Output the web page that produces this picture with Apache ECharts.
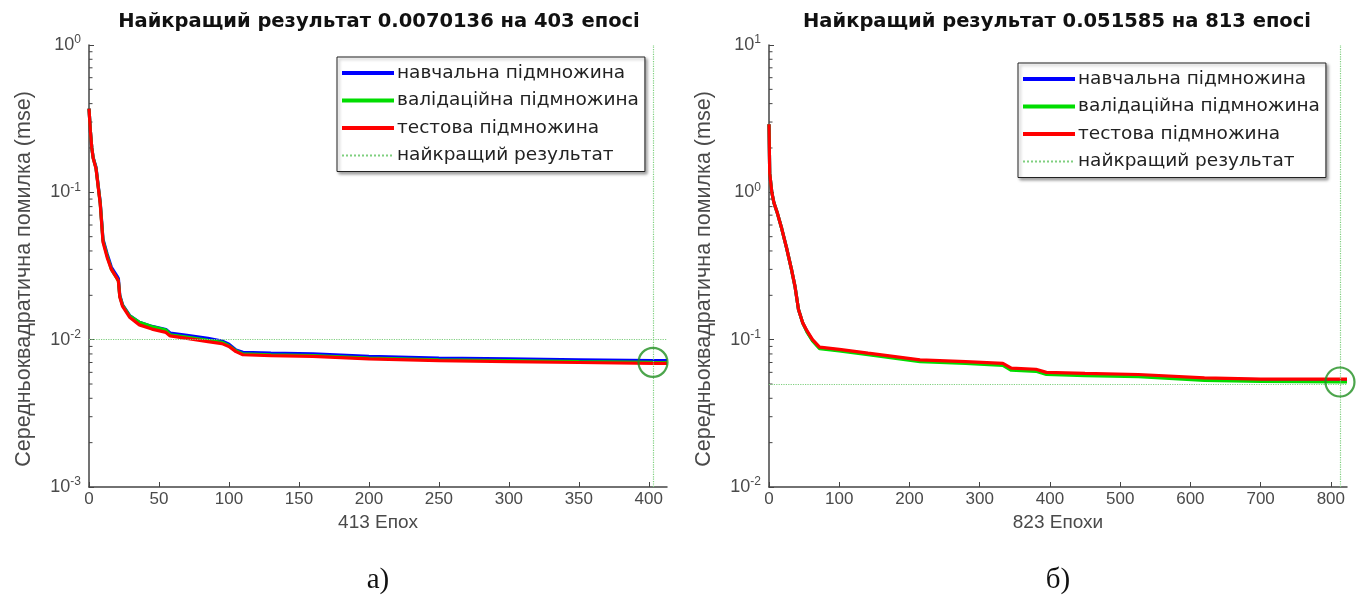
<!DOCTYPE html>
<html>
<head>
<meta charset="utf-8">
<script src="https://cdn.jsdelivr.net/npm/echarts@6/dist/echarts.min.js"></script>
<style>
  html, body { margin: 0; padding: 0; background: #ffffff; }
  #chart { width: 1357px; height: 600px; }
</style>
</head>
<body>
<div id="chart"></div>
<script>
// ---- labels ----
const seriesNames = ['навчальна підмножина', 'валідаційна підмножина', 'тестова підмножина', 'найкращий результат'];
const titleA = 'Найкращий результат 0.0070136 на 403 епосі';
const titleB = 'Найкращий результат 0.051585 на 813 епосі';
const xNameA = '413 Епох';
const xNameB = '823 Епохи';
const yName = 'Середньоквадратична помилка (mse)';
const captionA = 'а)';
const captionB = 'б)';

// ---- axis ranges and ticks ----
const xMaxA = 413;
const xMaxB = 823;
const xTicksA = [0, 50, 100, 150, 200, 250, 300, 350, 400];
const xTicksB = [0, 100, 200, 300, 400, 500, 600, 700, 800];
const yDecadesA = [0.001, 0.01, 0.1, 1];
const yDecadesB = [0.01, 0.1, 1, 10];
const minorSteps = [2, 3, 4, 5, 6, 7, 8, 9];

// ---- best result ----
const bestA = [403, 0.0070136];
const bestB = [813, 0.051585];

// ---- panel a: [epoch, mse] ----
const trainA = [[0,0.37],[1,0.26],[2,0.20],[3,0.172],[5,0.148],[8,0.086],[10,0.048],[13,0.038],[16,0.031],[20,0.027],[21,0.026],[22,0.020],[24,0.0172],[29,0.0146],[36,0.0131],[45,0.0123],[55,0.0117],[58,0.0111],[70,0.0107],[85,0.0102],[95,0.0098],[100,0.0093],[105,0.0085],[110,0.0082],[130,0.0081],[160,0.0080],[200,0.0077],[250,0.0075],[300,0.0074],[350,0.0073],[403,0.0072],[413,0.0072]];
const valA   = [[0,0.37],[1,0.26],[2,0.20],[3,0.171],[5,0.146],[8,0.085],[10,0.047],[13,0.037],[16,0.030],[20,0.026],[21,0.025],[22,0.0197],[24,0.0171],[29,0.0145],[36,0.0131],[45,0.0123],[55,0.0116],[58,0.0108],[70,0.0104],[85,0.0099],[95,0.0096],[100,0.0091],[105,0.0084],[110,0.0080],[130,0.0079],[160,0.0078],[200,0.0075],[250,0.0073],[300,0.0072],[350,0.0071],[403,0.0070136],[413,0.0070]];
const testA  = [[0,0.37],[1,0.26],[2,0.20],[3,0.17],[5,0.145],[8,0.084],[10,0.046],[13,0.036],[16,0.030],[20,0.026],[21,0.025],[22,0.0195],[24,0.0168],[29,0.0142],[36,0.0126],[45,0.0118],[55,0.0112],[58,0.0106],[70,0.0102],[85,0.0097],[95,0.0094],[100,0.0090],[105,0.0083],[110,0.0079],[130,0.0078],[160,0.0077],[200,0.0074],[250,0.0072],[300,0.0071],[350,0.0070],[403,0.0069],[413,0.0069]];

// ---- panel b: [epoch, mse] ----
const trainB = [[0,2.9],[1,1.35],[4,1.0],[7,0.85],[12,0.72],[18,0.57],[25,0.42],[32,0.30],[37,0.23],[42,0.160],[48,0.130],[54,0.114],[62,0.099],[72,0.088],[100,0.085],[141,0.080],[215,0.072],[280,0.070],[333,0.068],[345,0.063],[380,0.062],[395,0.059],[450,0.058],[526,0.057],[620,0.054],[700,0.0535],[823,0.0535]];
const valB   = [[0,2.9],[1,1.35],[4,1.0],[7,0.85],[12,0.72],[18,0.57],[25,0.42],[32,0.30],[37,0.23],[42,0.160],[48,0.130],[54,0.113],[62,0.098],[72,0.087],[100,0.084],[141,0.079],[215,0.071],[280,0.069],[333,0.067],[345,0.062],[380,0.061],[395,0.058],[450,0.057],[526,0.056],[620,0.053],[700,0.052],[813,0.051585],[823,0.0516]];
const testB  = [[0,2.9],[1,1.35],[4,1.0],[7,0.85],[12,0.72],[18,0.57],[25,0.42],[32,0.30],[37,0.23],[42,0.160],[48,0.130],[54,0.115],[62,0.100],[72,0.089],[100,0.086],[141,0.081],[215,0.073],[280,0.071],[333,0.069],[345,0.064],[380,0.063],[395,0.060],[450,0.059],[526,0.058],[620,0.055],[700,0.054],[823,0.054]];

// ---- styling ----
const colors = { train: '#0000ff', val: '#00dd00', test: '#ff0000', best: '#7fcf7f', circle: '#1f8f1f' };
const axisColor = '#444444';
const labelColor = '#4a4a4a';
const uiFont = 'DejaVu Sans';
const tickFont = 'Liberation Sans';

function minorValues(decades) {
  const out = [];
  for (let i = 0; i < decades.length - 1; i++) {
    for (const m of minorSteps) out.push([0, decades[i] * m]);
  }
  return out;
}

function powLabel(v) {
  const e = Math.round(Math.log10(v));
  return '{b|10}{s|' + e + '}';
}

function makeGrid(left) {
  return { left: left, top: 45, width: 578, height: 442, containLabel: false };
}

function makeX(idx, max, ticks, name) {
  return {
    type: 'value', gridIndex: idx, min: 0, max: max,
    name: name, nameLocation: 'middle', nameGap: 19,
    nameTextStyle: { fontFamily: tickFont, fontSize: 19, color: labelColor },
    axisLine: { lineStyle: { color: axisColor, width: 1.5 } },
    axisTick: { inside: true, length: 5, customValues: ticks, lineStyle: { color: axisColor } },
    axisLabel: { customValues: ticks, fontFamily: tickFont, fontSize: 17, color: labelColor, margin: 4 },
    splitLine: { show: false }
  };
}

function makeY(idx, decades) {
  return {
    type: 'log', logBase: 10, gridIndex: idx,
    min: decades[0], max: decades[decades.length - 1], splitNumber: decades.length - 1,
    name: yName, nameLocation: 'middle', nameRotate: 90, nameGap: 54,
    nameTextStyle: { fontFamily: tickFont, fontSize: 21.5, color: labelColor, padding: [0, 26, 0, 0] },
    axisLine: { show: true, lineStyle: { color: axisColor, width: 1.5 } },
    axisTick: { inside: true, length: 5, lineStyle: { color: axisColor } },
    axisLabel: {
      formatter: powLabel, margin: 8, color: labelColor,
      rich: {
        b: { fontFamily: tickFont, fontSize: 18, lineHeight: 22, color: labelColor },
        s: { fontFamily: tickFont, fontSize: 12, lineHeight: 12, verticalAlign: 'top', color: labelColor }
      }
    },
    splitLine: { show: false }
  };
}

function lineSeries(name, data, color, idx, width) {
  return {
    name: name, type: 'line', xAxisIndex: idx, yAxisIndex: idx,
    data: data, symbol: 'none', smooth: false, animation: false,
    lineStyle: { color: color, width: width }, itemStyle: { color: color }
  };
}

function bestSeries(best, idx) {
  return {
    name: seriesNames[3], type: 'line', xAxisIndex: idx, yAxisIndex: idx,
    data: [], symbol: 'none', animation: false,
    lineStyle: { color: colors.best, width: 1.5, type: 'dotted' },
    itemStyle: { color: colors.best },
    markLine: {
      silent: true, symbol: ['none', 'none'], animation: false,
      label: { show: false },
      lineStyle: { color: colors.best, width: 1.2, type: 'dotted' },
      data: [{ yAxis: best[1] }, { xAxis: best[0] }]
    }
  };
}

function circleSeries(best, idx) {
  return {
    type: 'scatter', xAxisIndex: idx, yAxisIndex: idx, data: [best],
    symbol: 'circle', symbolSize: 29, silent: true, animation: false, z: 5,
    itemStyle: { color: 'rgba(0,0,0,0)', borderColor: colors.circle, borderWidth: 2.2 }
  };
}

function minorTickSeries(decades, idx) {
  return {
    type: 'custom', xAxisIndex: idx, yAxisIndex: idx, silent: true, animation: false,
    data: minorValues(decades),
    renderItem: function (params, api) {
      const p = api.coord([api.value(0), api.value(1)]);
      return {
        type: 'line',
        shape: { x1: p[0], y1: p[1], x2: p[0] + 3.5, y2: p[1] },
        style: { stroke: axisColor, lineWidth: 1 }
      };
    }
  };
}

function makeLegend(left, top) {
  return {
    data: [
      { name: seriesNames[0], lineStyle: { width: 4 } },
      { name: seriesNames[1], lineStyle: { width: 4 } },
      { name: seriesNames[2], lineStyle: { width: 4 } },
      { name: seriesNames[3], lineStyle: { width: 2 } }
    ],
    orient: 'vertical', left: left, top: top,
    itemWidth: 52, itemHeight: 14, itemGap: 7.5, padding: [6, 6, 6, 3],
    backgroundColor: '#ffffff', borderColor: '#222222', borderWidth: 1,
    shadowColor: 'rgba(0,0,0,0.35)', shadowBlur: 3, shadowOffsetX: 2, shadowOffsetY: 2,
    selectedMode: false,
    itemStyle: { opacity: 0 },
    textStyle: { fontFamily: uiFont, fontSize: 18.5, color: '#222222', lineHeight: 20, padding: [0, 0, 0, -2] }
  };
}

const chart = echarts.init(document.getElementById('chart'), null, { renderer: 'canvas' });

chart.setOption({
  backgroundColor: '#ffffff',
  animation: false,
  grid: [makeGrid(89), makeGrid(769)],
  xAxis: [makeX(0, xMaxA, xTicksA, xNameA), makeX(1, xMaxB, xTicksB, xNameB)],
  yAxis: [makeY(0, yDecadesA), makeY(1, yDecadesB)],
  legend: [makeLegend(337, 57), makeLegend(1018, 63)],
  series: [
    minorTickSeries(yDecadesA, 0),
    lineSeries(seriesNames[0], trainA, colors.train, 0, 3.2),
    lineSeries(seriesNames[1], valA, colors.val, 0, 3.2),
    lineSeries(seriesNames[2], testA, colors.test, 0, 3.2),
    bestSeries(bestA, 0),
    circleSeries(bestA, 0),
    minorTickSeries(yDecadesB, 1),
    lineSeries(seriesNames[0], trainB, colors.train, 1, 3.2),
    lineSeries(seriesNames[1], valB, colors.val, 1, 3.2),
    lineSeries(seriesNames[2], testB, colors.test, 1, 3.2),
    bestSeries(bestB, 1),
    circleSeries(bestB, 1)
  ],
  graphic: [
    { type: 'text', x: 379, y: 22, style: { text: titleA, align: 'center', verticalAlign: 'middle', fontFamily: uiFont, fontWeight: 'bold', fontSize: 19.5, fill: '#111111' } },
    { type: 'text', x: 1057, y: 22, style: { text: titleB, align: 'center', verticalAlign: 'middle', fontFamily: uiFont, fontWeight: 'bold', fontSize: 19.5, fill: '#111111' } },
    { type: 'text', x: 378, y: 580, style: { text: captionA, align: 'center', verticalAlign: 'middle', fontFamily: 'Liberation Serif', fontSize: 29, fill: '#111111' } },
    { type: 'text', x: 1058, y: 580, style: { text: captionB, align: 'center', verticalAlign: 'middle', fontFamily: 'Liberation Serif', fontSize: 29, fill: '#111111' } }
  ]
});
</script>
</body>
</html>
